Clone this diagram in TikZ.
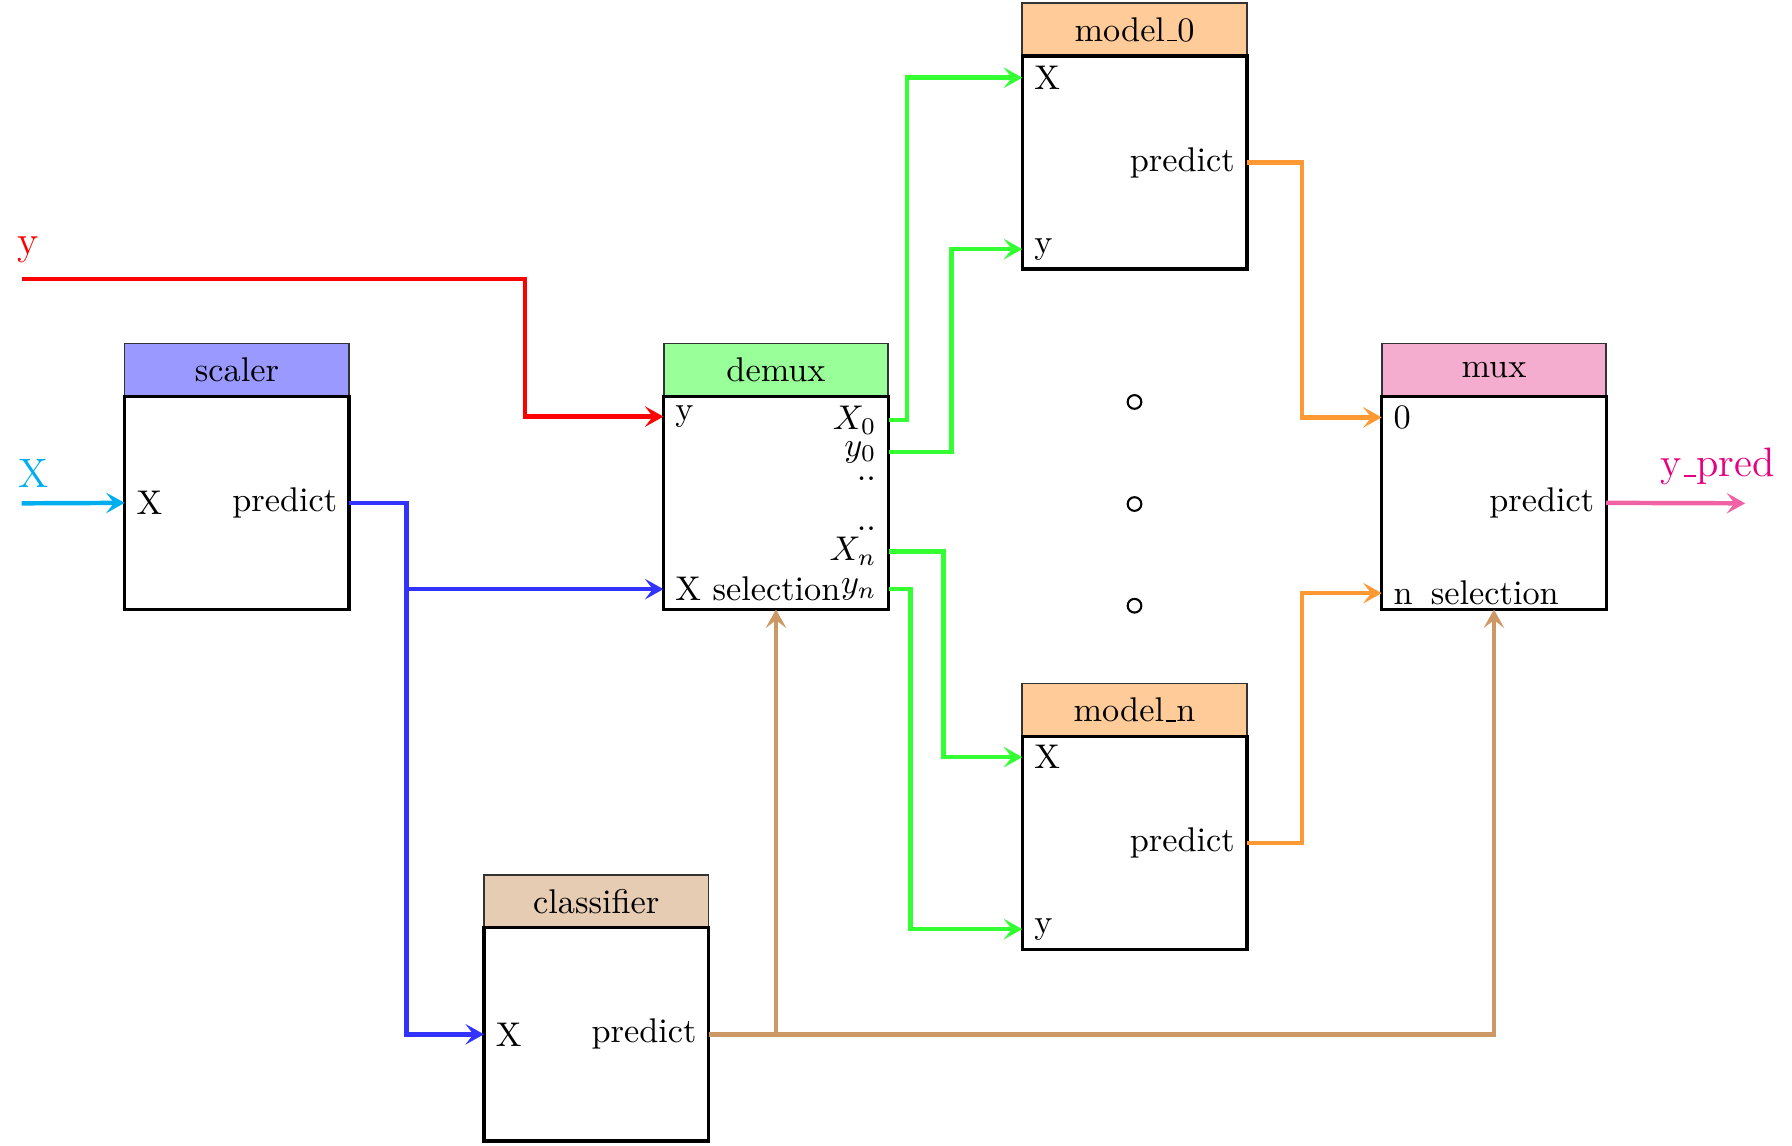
\documentclass[tikz,border=0pt]{standalone}
\usetikzlibrary{arrows.meta,calc}
\pgfdeclarelayer{background}
\pgfsetlayers{background,main}

% short low rule used as underscore in names
\newcommand{\lowbar}{\leavevmode\kern.06em\vbox{\hrule width.3em}}

\definecolor{hdrScaler}{HTML}{9999FF}
\definecolor{hdrDemux}{HTML}{99FF99}
\definecolor{hdrModel}{HTML}{FFCC99}
\definecolor{hdrMux}{HTML}{F5ADCF}
\definecolor{hdrClf}{HTML}{E6CCB3}
\definecolor{lnBlue}{HTML}{3333FF}
\definecolor{lnGreen}{HTML}{33FF33}
\definecolor{lnOrange}{HTML}{FF9933}
\definecolor{lnTan}{HTML}{CC9966}
\definecolor{lnCyan}{HTML}{00AEEF}
\definecolor{lnPink}{HTML}{F062A4}
\definecolor{txMagenta}{HTML}{E6007E}

\tikzset{
  body/.style={draw=black, line width=1pt, fill=white, minimum width=65.5pt,
    minimum height=62.2pt, inner sep=0pt, outer sep=0pt},
  head/.style={draw=black!80, line width=0.5pt, minimum width=65.5pt,
    minimum height=15.4pt, inner sep=0pt, outer sep=0pt, anchor=south},
  portL/.style={anchor=west, inner sep=3.3pt},
  portR/.style={anchor=east, inner sep=3.3pt},
  wire/.style={line width=1.3pt, -{Stealth[length=5.4pt,width=6pt,inset=2.3pt]}},
  dot/.style={circle, draw, line width=0.6pt, minimum size=4pt, inner sep=0pt},
  extlabel/.style={font=\large, inner sep=0pt, anchor=base west}
}

\begin{document}
\begin{tikzpicture}[x=0.33333pt, y=-0.33333pt]
\useasboundingbox (0,0) rectangle (1568,1002);

% block bodies
\node[body] (sc) at (207.3,440) {};
\node[body] (dm) at (679,440) {};
\node[body] (mx) at (1307.2,440) {};
\node[body] (m0) at (992.7,142.2) {};
\node[body] (mn) at (992.7,737.5) {};
\node[body] (cl) at (521.7,905) {};

% block titles
\begin{pgfonlayer}{background}
\node[head, fill=hdrScaler] (sch) at (sc.north) {scaler};
\node[head, fill=hdrDemux] (dmh) at (dm.north) {demux};
\node[head, fill=hdrMux] (mxh) at (mx.north) {mux};
\node[head, fill=hdrModel] (m0h) at (m0.north) {model\lowbar 0};
\node[head, fill=hdrModel] (mnh) at (mn.north) {model\lowbar n};
\node[head, fill=hdrClf] (clh) at (cl.north) {classifier};
\end{pgfonlayer}

% ports of scaler
\node[portL] (scX) at (sc.west) {X};
\node[portR] (scP) at (sc.east) {predict};

% ports of demux
\node[portL] (dmy) at (580.5,364.5) {y};
\node[portL] (dmXs) at (580.5,515.5) {X selection};
\node[portR] (dmX0) at (777.5,367.5) {$X_0$};
\node[portR] (dmy0) at (777.5,395.5) {$y_0$};
\node[inner sep=0pt, anchor=base east] (dmd1) at (767,420) {..};
\node[inner sep=0pt, anchor=base east] (dmd2) at (767,464) {..};
\node[portR] (dmXn) at (777.5,482.5) {$X_n$};
\node[portR] (dmyn) at (777.5,515.5) {$y_n$};

% ports of the two models
\node[portL] (m0X) at (894.5,68) {X};
\node[portR] (m0P) at (m0.east) {predict};
\node[portL] (m0y) at (894.5,218) {y};
\node[portL] (mnX) at (894.5,662.5) {X};
\node[portR] (mnP) at (mn.east) {predict};
\node[portL] (mny) at (894.5,813) {y};

% ports of mux
\node[portL] (mx0) at (1209,365.2) {0};
\node[portR] (mxP) at (mx.east) {predict};
\node[portL] (mxn) at (1209,519) {n\hspace{5.3pt}selection};

% ports of classifier
\node[portL] (clX) at (cl.west) {X};
\node[portR] (clP) at (cl.east) {predict};

% models between model_0 and model_n
\node[dot] (d1) at (992.7,351.7) {};
\node[dot] (d2) at (992.7,441) {};
\node[dot] (d3) at (992.7,530) {};

% external inputs and output
\coordinate (yIn) at (19,244);
\coordinate (xIn) at (19,440.4);
\coordinate (yOut) at (1527,440.4);
\node[extlabel, text=red] (ylab) at (15,222.6) {y};
\node[extlabel, text=lnCyan] (xlab) at (15.6,426.6) {X};
\node[extlabel, text=txMagenta] (ypredlab) at (1452,417) {y\lowbar pred};

% target into demux
\draw[wire, red] (yIn) -- ++(440.4,0) |- (dmy.west);

% features into scaler
\draw[wire, lnCyan] (xIn) -- (scX.west);

% scaled features to demux and classifier
\coordinate (bj) at (355.6,515.5);
\draw[wire, lnBlue] (scP.east) -| (bj) |- (clX.west);
\draw[wire, lnBlue] (bj) -- (dmXs.west);

% demux outputs to the models
\draw[wire, lnGreen] (dmX0.east) -- ++(16,0) |- (m0X.west);
\draw[wire, lnGreen] (dmy0.east) -- ++(55,0) |- (m0y.west);
\draw[wire, lnGreen] (dmXn.east) -- ++(48,0) |- (mnX.west);
\draw[wire, lnGreen] (dmyn.east) -- ++(19,0) |- (mny.west);

% model predictions into mux
\draw[wire, lnOrange] (m0P.east) -- ++(48.5,0) |- (mx0.west);
\draw[wire, lnOrange] (mnP.east) -- ++(48.5,0) |- (mxn.west);

% classifier selection signal
\draw[wire, lnTan] (clP.east) -| (dm.south);
\draw[wire, lnTan] (clP.east) -| (mx.south);

% final prediction
\draw[wire, lnPink] (mxP.east) -- (yOut);
\end{tikzpicture}
\end{document}
